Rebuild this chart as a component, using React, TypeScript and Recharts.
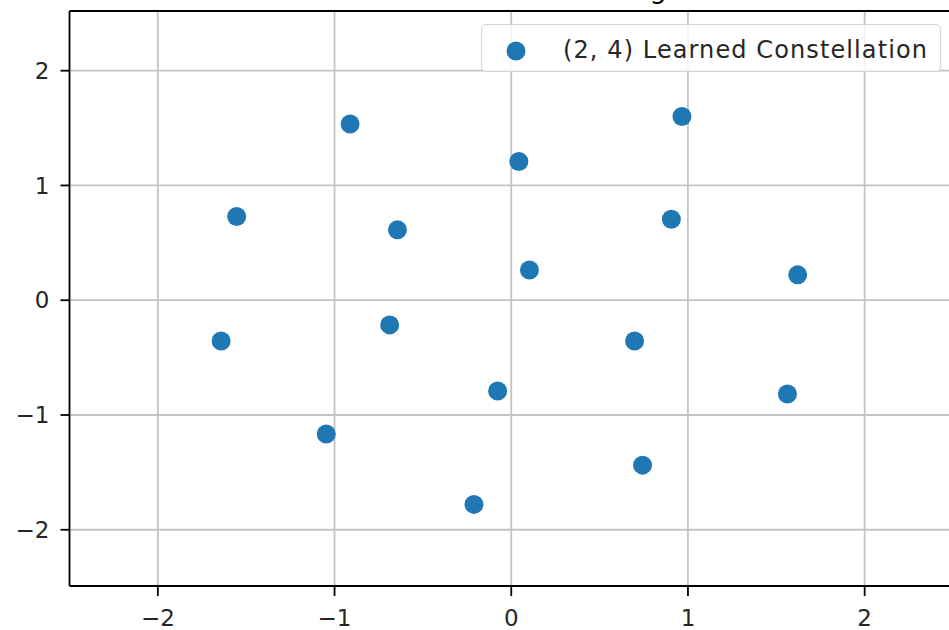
import React from 'react';
import {
  ScatterChart,
  Scatter,
  XAxis,
  YAxis,
  CartesianGrid,
  ReferenceLine,
} from 'recharts';

// Constellation points
const xs = [-0.912, 0.966, 0.043, -1.554, -0.644, 0.906, 0.103, 1.621, -1.642, -0.688, 0.698, -0.077, 1.563, -1.047, 0.743, -0.211];
const ys = [1.535, 1.601, 1.209, 0.729, 0.613, 0.706, 0.264, 0.221, -0.355, -0.215, -0.355, -0.791, -0.817, -1.166, -1.437, -1.779];
const ticks = [-2, -1, 0, 1, 2];
const seriesName = '(2, 4) Learned Constellation';

const points = xs.map((x, i) => ({ x, y: ys[i] }));

const BLUE = '#1f77b4';
const FONT = 'DejaVu Sans';
const X_DOMAIN = [-2.5, 2.5];
const Y_DOMAIN = [-2.49, 2.52];

const Dot = (props: any) => <circle cx={props.cx} cy={props.cy} r={9.5} fill={BLUE} />;

export default function App() {
  return (
    <div style={{ position: 'absolute', left: 0, top: 0, width: 949, height: 630, overflow: 'hidden', background: '#fff' }}>
      <ScatterChart width={970} height={630} margin={{ top: 11, right: 17, bottom: 14, left: 9.5 }}>
        <CartesianGrid stroke="#c4c4c4" strokeWidth={1.8} horizontalValues={ticks} verticalValues={ticks} />
        <XAxis
          type="number"
          dataKey="x"
          domain={X_DOMAIN}
          ticks={ticks}
          height={30}
          tickSize={10}
          tickMargin={14}
          stroke="#000"
          strokeWidth={1.8}
          tick={{ fill: '#262626', fontSize: 23, fontFamily: FONT }}
          tickFormatter={(v) => String(v).replace('-', '\u2212')}
          allowDataOverflow
        />
        <YAxis
          type="number"
          dataKey="y"
          domain={Y_DOMAIN}
          ticks={ticks}
          width={60}
          tickSize={9}
          tickMargin={11}
          stroke="#000"
          strokeWidth={1.8}
          tick={{ fill: '#262626', fontSize: 23, fontFamily: FONT }}
          tickFormatter={(v) => String(v).replace('-', '\u2212')}
          allowDataOverflow
        />
        <ReferenceLine y={Y_DOMAIN[1]} stroke="#000" strokeWidth={1.8} />
        <ReferenceLine x={X_DOMAIN[1]} stroke="#000" strokeWidth={1.8} />
        <Scatter name={seriesName} data={points} shape={Dot} isAnimationActive={false} />
        <text x={511} y={-2} textAnchor="middle" fontSize={27} fontFamily={FONT} fill="#000">
          Learned Constellation Diagram
        </text>
      </ScatterChart>
      <div
        style={{
          position: 'absolute',
          left: 481,
          top: 24,
          width: 460,
          height: 48,
          boxSizing: 'border-box',
          border: '1.5px solid #d4d4d4',
          borderRadius: 5,
          background: 'rgba(255,255,255,0.8)',
          fontFamily: FONT,
          fontSize: 24,
          color: '#262626',
        }}
      >
        <svg width={40} height={46} style={{ position: 'absolute', left: 14, top: 0 }}>
          <circle cx={20} cy={26} r={9.5} fill={BLUE} />
        </svg>
        <span style={{ position: 'absolute', left: 81, top: 11, whiteSpace: 'nowrap', lineHeight: '28px', letterSpacing: 1.1 }}>
          {seriesName}
        </span>
      </div>
    </div>
  );
}
